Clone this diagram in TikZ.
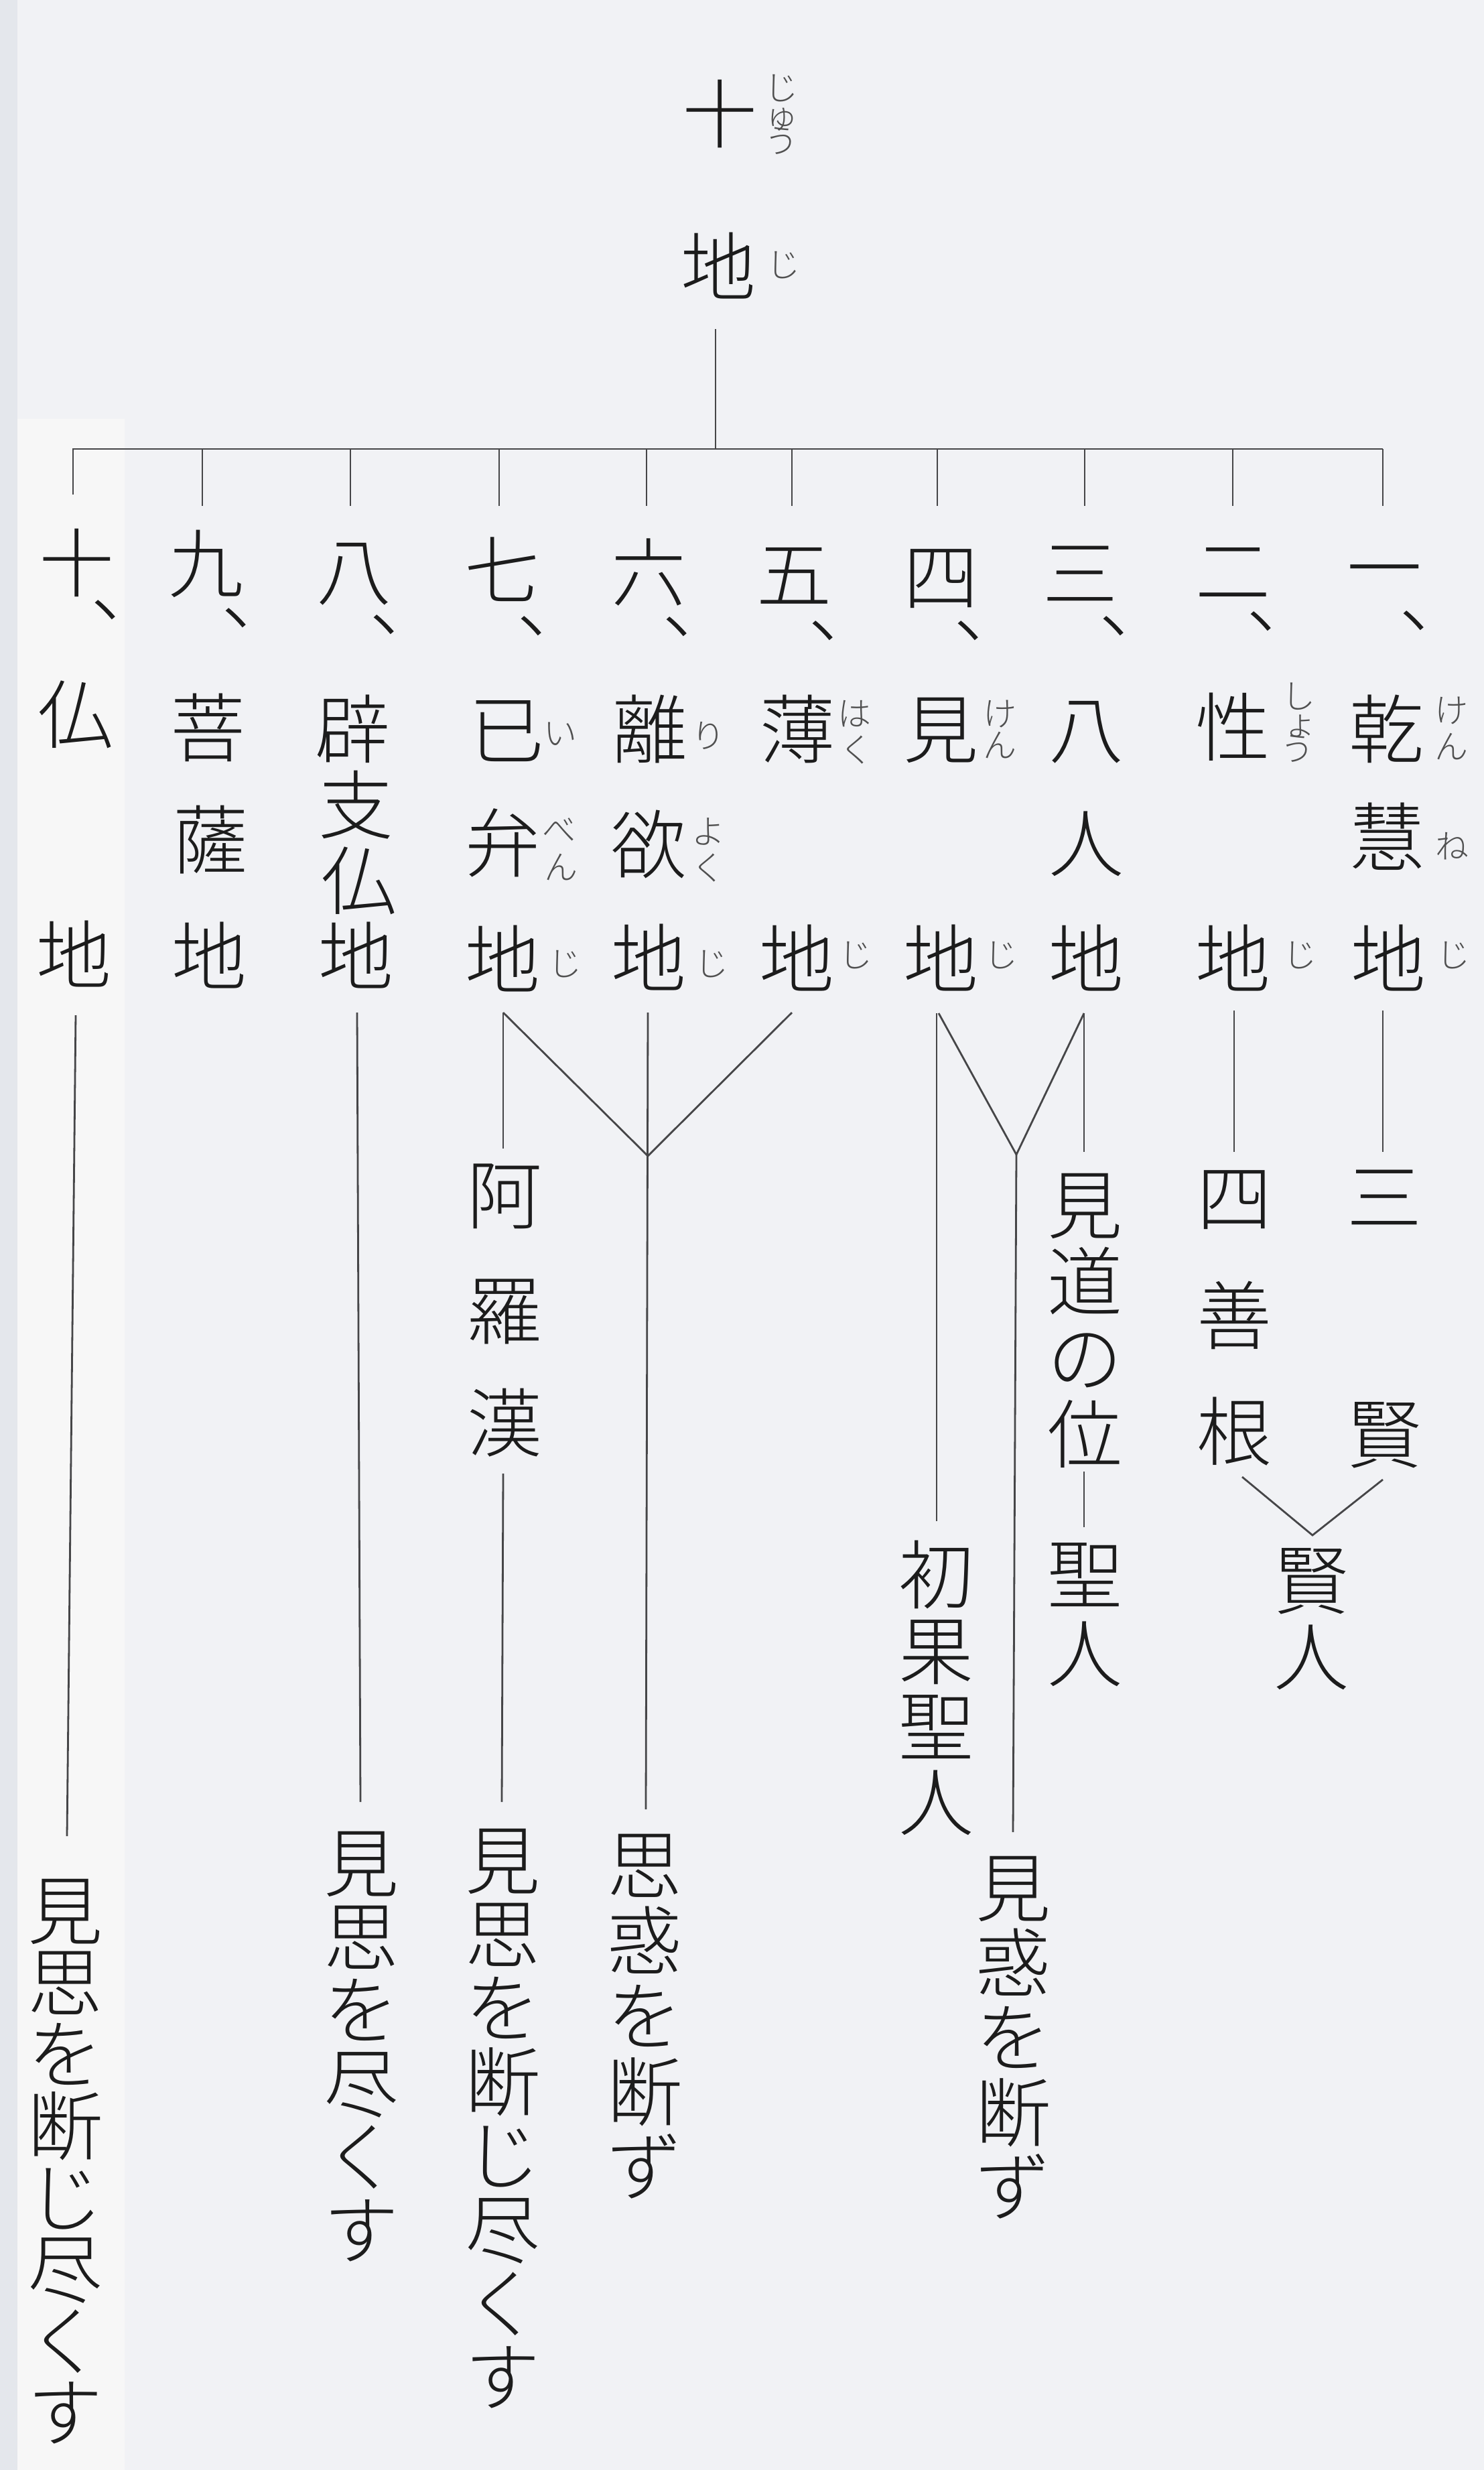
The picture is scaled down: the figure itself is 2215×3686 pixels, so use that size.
\documentclass[tikz,border=0pt]{standalone}
\usepackage{fontspec}
\IfFontExistsTF{Noto Sans CJK JP Light}
  {\newfontfamily\jpf{Noto Sans CJK JP Light}}
  {\newfontfamily\jpf{Noto Sans CJK JP}}
\definecolor{bgc}{RGB}{241,242,245}
\definecolor{bgl}{RGB}{247,247,247}
\definecolor{bge}{RGB}{228,231,236}
\definecolor{ink}{RGB}{28,28,28}
\definecolor{linec}{RGB}{70,70,72}
\definecolor{rubyc}{RGB}{80,80,80}
\tikzset{
  ch/.style={inner sep=0pt, text height=98.5pt, text depth=13.5pt, font=\jpf\fontsize{112pt}{112pt}\selectfont, text=ink},
  rb/.style={inner sep=0pt, text height=35pt, text depth=3pt, font=\jpf\fontsize{50pt}{50pt}\selectfont, text=rubyc},
  tou/.style={inner sep=0pt, font=\jpf\fontsize{112pt}{112pt}\selectfont, text=ink, xshift=-22pt},
  ln/.style={draw=linec, line width=2.8pt},
}
\newcommand\toum{\makebox[0pt][l]{、}}
\begin{document}
\begin{tikzpicture}[x=1pt,y=-1pt]
\fill[bgc] (0,0) rectangle (2215,3686);
\fill[bge] (0,0) rectangle (26,3686);
\fill[bgl] (26,625) rectangle (186,3686);
\useasboundingbox (0,0) rectangle (2215,3686);

% title
\node[ch] (t1) at (1074,170) {十};
\node[rb] (t1r1) at (1166,133) {じ};
\node[rb] (t1r2) at (1166,175) {ゅ};
\node[rb] (t1r3) at (1166,212) {う};
\node[ch] (t2) at (1072,398) {地};
\node[rb] (t2r) at (1169,397) {じ};
\coordinate (top) at (1068,491);
\coordinate (barc) at (1068,670);
\draw[ln] (top) -- (barc);

% bar and ticks
\coordinate (b10) at (109,670);
\coordinate (b1) at (2064,670);
\draw[ln] (109,738) -- (b10) -- (b1);
\foreach \x/\n in {302/9,523/8,745/7,965/6,1182/5,1399/4,1619/3,1840/2,2064/1}
  \draw[ln] (\x,670) coordinate (k\n) -- (\x,755) coordinate (e\n);

% numerals
\node[ch] (n10) at (114,840) {十};  \node[tou] (p10) at (157,910) {\toum};
\node[ch] (n9) at (307,841) {九};   \node[tou] (p9) at (352,922) {\toum};
\node[ch] (n8) at (528,852) {八};   \node[tou] (p8) at (573,932) {\toum};
\node[ch] (n7) at (749,851) {七};   \node[tou] (p7) at (793,934) {\toum};
\node[ch] (n6) at (968,854) {六};   \node[tou] (p6) at (1010,935) {\toum};
\node[ch] (n5) at (1185,857) {五};  \node[tou] (p5) at (1228,941) {\toum};
\node[ch] (n4) at (1404,860) {四};  \node[tou] (p4) at (1445,941) {\toum};
\node[ch] (n3) at (1612,855) {三};  \node[tou] (p3) at (1662,934) {\toum};
\node[ch] (n2) at (1840,852) {二};  \node[tou] (p2) at (1882,927) {\toum};
\node[ch] (n1) at (2066,847) {一};  \node[tou] (p1) at (2110,926) {\toum};

% column 10
\node[ch] (a10) at (112,1066) {仏};
\node[ch] (d10) at (110,1425) {地};
% column 9
\node[ch] (a9) at (310,1086) {菩};
\node[ch] (b9) at (314,1253) {薩};
\node[ch] (d9) at (312,1427) {地};
% column 8
\node[ch] (a8) at (526,1088) {辟};
\node[ch] (b8) at (531,1201) {支};
\node[ch] (c8) at (535,1314) {仏};
\node[ch] (d8) at (531,1427) {地};
% column 7
\node[ch] (a7) at (756,1089) {已};
\node[rb] (a7r) at (836,1096) {い};
\node[ch] (b7) at (750,1258) {弁};
\node[rb] (b7r1) at (834,1240) {べ};
\node[rb] (b7r2) at (837,1296) {ん};
\node[ch] (d7) at (750,1432) {地};
\node[rb] (d7r) at (843,1440) {じ};
% column 6
\node[ch] (a6) at (970,1088) {離};
\node[rb] (a6r) at (1057,1100) {り};
\node[ch] (b6) at (968,1260) {欲};
\node[rb] (b6r1) at (1057,1243) {よ};
\node[rb] (b6r2) at (1057,1297) {く};
\node[ch] (d6) at (968,1430) {地};
\node[rb] (d6r) at (1062,1440) {じ};
% column 5
\node[ch] (a5) at (1190,1088) {薄};
\node[rb] (a5r1) at (1275,1067) {は};
\node[rb] (a5r2) at (1278,1121) {く};
\node[ch] (d5) at (1189,1431) {地};
\node[rb] (d5r) at (1277,1427) {じ};
% column 4
\node[ch] (a4) at (1404,1088) {見};
\node[rb] (a4r1) at (1492,1067) {け};
\node[rb] (a4r2) at (1492,1114) {ん};
\node[ch] (d4) at (1404,1431) {地};
\node[rb] (d4r) at (1494,1427) {じ};
% column 3
\node[ch] (a3) at (1621,1088) {八};
\node[ch] (b3) at (1621,1258) {人};
\node[ch] (d3) at (1621,1431) {地};
% column 2
\node[ch] (a2) at (1840,1085) {性};
\node[rb] (a2r1) at (1938,1041) {し};
\node[rb] (a2r2) at (1941,1081) {ょ};
\node[rb] (a2r3) at (1936,1119) {う};
\node[ch] (d2) at (1840,1431) {地};
\node[rb] (d2r) at (1940,1427) {じ};
% column 1
\node[ch] (a1) at (2069,1088) {乾};
\node[rb] (a1r1) at (2166,1062) {け};
\node[rb] (a1r2) at (2166,1116) {ん};
\node[ch] (b1c) at (2070,1249) {慧};
\node[rb] (b1r) at (2167,1265) {ね};
\node[ch] (d1) at (2072,1431) {地};
\node[rb] (d1r) at (2169,1427) {じ};

% lower texts
\foreach \c [count=\i] in {見,思,を,断,じ,尽,く,す}
  \node[ch] (x10\i) at (97,{2851+107*(\i-1)}) {\c};
\foreach \c [count=\i] in {見,思,を,尽,く,す}
  \node[ch] (x8\i) at (539,{2780+109.6*(\i-1)}) {\c};
\node[ch] (h71) at (753,1783) {阿};
\node[ch] (h72) at (753,1955) {羅};
\node[ch] (h73) at (753,2123) {漢};
\foreach \c [count=\i] in {見,思,を,断,じ,尽,く,す}
  \node[ch] (x7\i) at (750,{2776+110.1*(\i-1)}) {\c};
\foreach \c [count=\i] in {思,惑,を,断,ず}
  \node[ch] (x6\i) at (962,{2783+112.5*(\i-1)}) {\c};
\foreach \c [count=\i] in {初,果,聖,人}
  \node[ch] (x4\i) at (1397,{2350+113*(\i-1)}) {\c};
\foreach \c [count=\i] in {見,惑,を,断,ず}
  \node[ch] (xv\i) at (1512,{2817+111.5*(\i-1)}) {\c};
\foreach \c [count=\i] in {見,道,の,位}
  \node[ch] (h3\i) at (1619,{1798+114*(\i-1)}) {\c};
\node[ch] (s31) at (1619,2349) {聖};
\node[ch] (s32) at (1619,2467) {人};
\node[ch] (h21) at (1842,1787) {四};
\node[ch] (h22) at (1842,1963) {善};
\node[ch] (h23) at (1842,2136) {根};
\node[ch] (h11) at (2066,1786) {三};
\node[ch] (h12) at (2066,2140) {賢};
\node[ch] (k1) at (1957,2358) {賢};
\node[ch] (k2) at (1957,2472) {人};

% connectors
\coordinate (v1) at (967,1725);
\coordinate (v2) at (1517,1723);
\coordinate (v3) at (1959,2291);
\draw[ln] (113,1515) -- (100,2740);
\draw[ln] (533,1511) -- (538,2689);
\draw[ln] (751,1511) -- (751,1714);
\draw[ln] (751,2199) -- (749,2689);
\draw[ln] (751,1511) -- (v1) -- (1182,1511);
\draw[ln] (967,1511) -- (964,2700);
\draw[ln] (1398,1512) -- (1398,2270);
\draw[ln] (1401,1512) -- (v2) -- (1618,1512);
\draw[ln] (v2) -- (1512,2734);
\draw[ln] (1618,1512) -- (1618,1719);
\draw[ln] (1618,2196) -- (1618,2279);
\draw[ln] (1842,1508) -- (1842,1719);
\draw[ln] (2064,1508) -- (2064,1719);
\draw[ln] (1854,2204) -- (v3) -- (2064,2208);
\end{tikzpicture}
\end{document}
